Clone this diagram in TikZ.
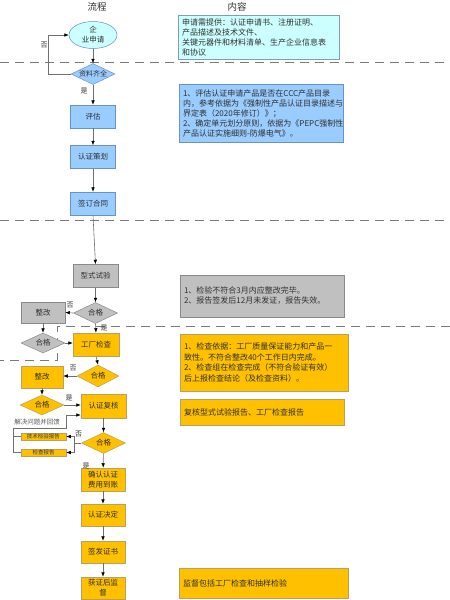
\documentclass[tikz,border=0pt]{standalone}
\usepackage{fontspec}
\setmainfont{Noto Sans CJK SC}
\usetikzlibrary{shapes.geometric,arrows.meta}
\definecolor{cyanf}{HTML}{CCFFFF}
\definecolor{cyand}{HTML}{7F9FB0}
\definecolor{ellb}{HTML}{5F8FC0}
\definecolor{bluef}{HTML}{99CCFF}
\definecolor{blued}{HTML}{6A94BE}
\definecolor{grayf}{HTML}{C0C0C0}
\definecolor{grayd}{HTML}{8A8A8A}
\definecolor{yelf}{HTML}{FFC000}
\definecolor{yeld}{HTML}{B8A060}
\definecolor{txt}{HTML}{303030}
\definecolor{lnc}{HTML}{707070}
\definecolor{dashc}{HTML}{7A7A7A}
\tikzset{
  fbox/.style={draw, rectangle, minimum width=45pt, minimum height=23pt, inner sep=1pt, align=center, text=txt, font=\fontsize{7.5pt}{10pt}\selectfont, line width=0.5pt},
  diam/.style={draw, diamond, aspect=2.1, inner sep=0pt, minimum width=44pt, minimum height=21pt, text=txt, font=\fontsize{7.5pt}{9pt}\selectfont, line width=0.5pt},
  rbox/.style={draw, rectangle, align=left, inner xsep=4pt, inner ysep=2pt, text=txt, font=\fontsize{8pt}{10pt}\selectfont, line width=0.5pt},
  smallbox/.style={draw, rectangle, fill=yelf, draw=yeld, minimum width=45pt, minimum height=7.5pt, inner sep=0pt, text=txt, font=\fontsize{5.5pt}{6pt}\selectfont, line width=0.5pt},
  arr/.style={draw=lnc, line width=0.6pt, -{Latex[length=4.5pt,width=3.6pt,color=black]}},
  plain/.style={draw=lnc, line width=0.6pt},
  lbl/.style={font=\fontsize{7pt}{8pt}\selectfont, text=black!80, inner sep=0pt},
  sepline/.style={draw=dashc, line width=0.8pt, dash pattern=on 9pt off 6pt},
  title/.style={font=\fontsize{9.5pt}{11pt}\selectfont, text=txt, inner sep=0pt}
}
\begin{document}
\begin{tikzpicture}[x=1pt,y=-1pt]
\fill[white] (0,0) rectangle (450,600);
\useasboundingbox (0,0) rectangle (450,600);

% titles
\node[title] (t1title) at (97,7) {流程};
\node[title] (t2title) at (237,7) {内容};

% separator lines
\draw[sepline] (0,62) -- (450,62);
\draw[sepline] (0,220) -- (450,220);
\draw[sepline] (450,326) -- (57,326) -- (57,360) -- (0,360);

% right content boxes
\node[rbox, fill=cyanf, draw=cyand, minimum width=161pt, minimum height=44pt, text width=153pt] (R1) at (258.5,37)
 {申请需提供：认证申请书、注册证明、\\产品描述及技术文件、\\关键元器件和材料清单、生产企业信息表\\和协议};
\node[rbox, fill=bluef, draw=blued, minimum width=164pt, minimum height=58pt, text width=156pt] (R2) at (261,113)
 {1、评估认证申请产品是否在CCC产品目录\\内，参考依据为《强制性产品认证目录描述与\\界定表（2020年修订）》；\\2、确定单元划分原则，依据为《PEPC强制性\\产品认证实施细则-防爆电气》。};
\node[rbox, fill=grayf, draw=grayd, minimum width=164pt, minimum height=42pt, text width=156pt] (R3) at (262,296)
 {1、检验不符合3月内应整改完毕。\\2、报告签发后12月未发证，报告失效。};
\node[rbox, fill=yelf, draw=yeld, minimum width=168pt, minimum height=57pt, text width=160pt, font=\fontsize{8pt}{10.8pt}\selectfont] (R4) at (264,362.5)
 {1、检查依据：工厂质量保证能力和产品一\\致性。不符合整改40个工作日内完成。\\2、检查组在检查完成（不符合验证有效）\\后上报检查结论（及检查资料）。};
\node[rbox, fill=yelf, draw=yeld, minimum width=164pt, minimum height=26pt, text width=156pt] (R5) at (262,412)
 {复核型式试验报告、工厂检查报告};
\node[rbox, fill=yelf, draw=yeld, minimum width=169pt, minimum height=30pt, text width=161pt] (R6) at (263.5,583)
 {监督包括工厂检查和抽样检验};

% flow nodes
\node[draw=ellb, fill=cyanf, ellipse, minimum width=48pt, minimum height=27pt, inner sep=0pt, align=center, text=txt, font=\fontsize{7.5pt}{10pt}\selectfont, line width=0.5pt] (e) at (93,35) {企\\业申请};
\node[diam, fill=bluef, draw=blued, font=\fontsize{7pt}{8pt}\selectfont] (d1) at (93,74) {资料齐全};
\node[fbox, fill=bluef, draw=blued] (b1) at (93,116.5) {评估};
\node[fbox, fill=bluef, draw=blued] (b2) at (93,157) {认证策划};
\node[fbox, fill=bluef, draw=blued] (b3) at (93,203.5) {签订合同};
\node[fbox, fill=grayf, draw=grayd] (b4) at (95.5,276) {型式试验};
\node[diam, fill=grayf, draw=grayd] (g1) at (95.5,313) {合格};
\node[fbox, fill=grayf, draw=grayd, minimum width=44pt, minimum height=21pt] (z1) at (43,312.5) {整改};
\node[diam, fill=grayf, draw=grayd, minimum height=20pt] (g2) at (43,343) {合格};
\node[fbox, fill=yelf, draw=yeld, minimum width=46pt] (f1) at (96,344.5) {工厂检查};
\node[diam, fill=yelf, draw=yeld, minimum width=42pt, minimum height=22pt] (y1) at (98,376) {合格};
\node[fbox, fill=yelf, draw=yeld, minimum width=42pt, minimum height=22pt] (z2) at (42,377) {整改};
\node[diam, fill=yelf, draw=yeld, minimum height=20pt] (y2) at (42,405) {合格};
\node[fbox, fill=yelf, draw=yeld, minimum height=24pt] (r1) at (103.5,406) {认证复核};
\node[diam, fill=yelf, draw=yeld] (y3) at (103.5,443) {合格};
\node[smallbox] (tk) at (43.5,436.5) {技术检验报告};
\node[smallbox] (tc) at (43.5,452.5) {检查报告};
\node[fbox, fill=yelf, draw=yeld, minimum width=44pt] (c1) at (103,479.5) {确认认证\\费用到账};
\node[fbox, fill=yelf, draw=yeld, minimum width=44pt, minimum height=22pt] (c2) at (103,515) {认证决定};
\node[fbox, fill=yelf, draw=yeld, minimum width=44pt, minimum height=22pt] (c3) at (103,552) {签发证书};
\node[fbox, fill=yelf, draw=yeld, minimum width=44pt, minimum height=22pt] (c4) at (103,588) {获证后监\\督};

% connectors
\draw[arr] (e) -- (d1);
\draw[arr] (d1.west) -- ++(-22,0) |- (e.west);
\node[lbl] (l1) at (44,45) {否};
\draw[arr] (d1) -- (b1);
\node[lbl] (l2) at (84,91) {是};
\draw[arr] (b1) -- (b2);
\draw[arr] (b2) -- (b3);
\draw[arr] (b3.south) -- (b4.north);
\draw[arr] (b4) -- (g1);
\draw[arr] (g1.west) -- (z1.east);
\node[lbl] (l3) at (70,305) {否};
\draw[arr] (g1.south) -- (f1.north);
\node[lbl] (l4) at (104,328) {是};
\draw[arr] (z1) -- (g2);
\draw[arr] (g2.east) -- (g2.east -| f1.west);
\draw[arr] (f1.south) -- (y1.north);
\draw[arr] (y1.west) -- (y1.west -| z2.east);
\node[lbl] (l5) at (73,368) {否};
\draw[arr] (z2) -- (y2);
\draw[arr] (y2.east) -- (y2.east -| r1.west);
\node[lbl] (l6) at (69,398) {是};
\draw[arr] (r1) -- (y3);
\coordinate (sp) at (74,443);
\draw[plain] (y3.west) -- (sp);
\draw[arr] (sp) |- (tk.east);
\draw[arr] (sp) |- (tc.east);
\node[lbl] (l7) at (78.5,434) {否};
\coordinate (fb1) at (13,428);
\coordinate (fb2) at (66,428);
\draw[plain] (tc.west) -| (fb1);
\draw[plain] (tk.west) -- (tk.west -| fb1);
\draw[arr] (fb1) -- (fb2) |- ([yshift=-9pt]r1.west);
\node[lbl, text=black!65, font=\fontsize{6.5pt}{7pt}\selectfont] (l8) at (37,422.5) {解决问题并回馈};
\draw[arr] (y3) -- (c1);
\node[lbl] (l9) at (86,466) {是};
\draw[arr] (c1) -- (c2);
\draw[arr] (c2) -- (c3);
\draw[arr] (c3) -- (c4);
\end{tikzpicture}
\end{document}
